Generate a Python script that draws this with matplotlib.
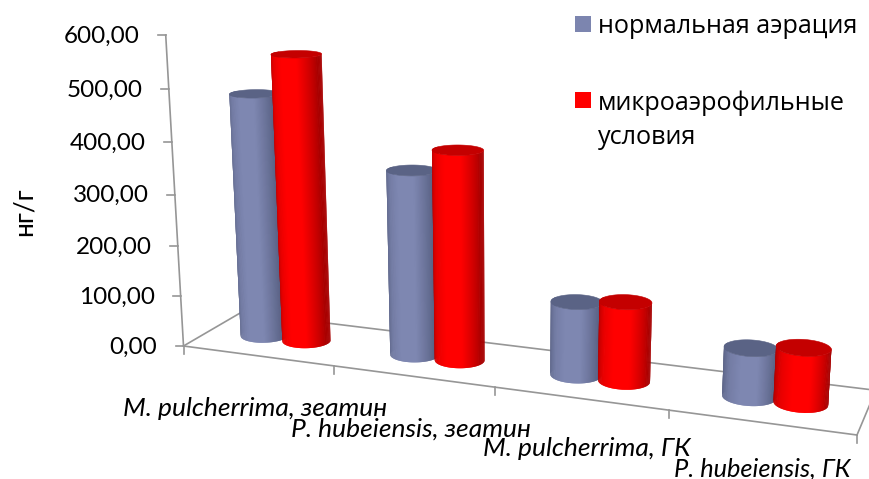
import numpy as np
import matplotlib
matplotlib.use('Agg')
import matplotlib.pyplot as plt
from matplotlib.collections import PolyCollection
from matplotlib.patches import Polygon, Rectangle

categories = ['M. pulcherrima, зеатин', 'P. hubeiensis, зеатин', 'M. pulcherrima, ГК', 'P. hubeiensis, ГК']
normal_aeration = [480, 358, 140, 91]
microaerophilic = [560, 403, 150, 103]
y_ticks = [0, 100, 200, 300, 400, 500, 600]
series_names = ['нормальная аэрация', 'микроаэрофильные\nусловия']

GRAY = '#969696'
BLUE = ('#555D7F', '#7E87B1', '#5A6385')  # edge, centre, top
RED = ('#A80000', '#FF0000', '#C40000')


def rgb(c):
    return np.array(matplotlib.colors.to_rgb(c))


# perspective of the floor: 4 corners of the plot box in pixels
src = [(0, 0), (4, 0), (0, 1), (4, 1)]
dst = [(183.5, 346), (857, 435), (241, 312.5), (875.8, 390.3)]
A, b = [], []
for (u, v), (x, y) in zip(src, dst):
    A.append([u, v, 1, 0, 0, 0, -u * x, -v * x])
    A.append([0, 0, 0, u, v, 1, -u * y, -v * y])
    b += [x, y]
h = np.linalg.solve(np.array(A), np.array(b))

# vertical lines meet far below the chart
VP = np.array([508.0, 6022.0, 1.0])
S = -0.05195 / 600


def project(cat, depth, val):
    w = h[6] * cat + h[7] * depth + 1 + S * val
    x = h[0] * cat + h[1] * depth + h[2] + S * val * VP[0]
    y = h[3] * cat + h[4] * depth + h[5] + S * val * VP[1]
    return x / w, y / w


def cylinder(ax, cat, val, colors, z):
    rx, rz = 0.147, 0.2
    edge, mid, top = colors
    th = np.linspace(np.pi - 0.35, 2 * np.pi + 0.35, 90)
    xb, yb = project(cat + rx * np.cos(th), 0.5 + rz * np.sin(th), 0)
    xt, yt = project(cat + rx * np.cos(th), 0.5 + rz * np.sin(th), val)
    polys, cols = [], []
    # strips overlap a little so no seams show
    for i in range(len(th) - 2):
        polys.append([(xb[i], yb[i]), (xb[i + 2], yb[i + 2]), (xt[i + 2], yt[i + 2]), (xt[i], yt[i])])
        u = (th[i + 1] - np.pi) / np.pi
        k = np.interp(u, [-0.1, 0.05, 0.3, 0.45, 0.65, 0.95, 1.1], [0, 0, 0.75, 1, 1, 0, 0])
        cols.append(rgb(edge) + k * (rgb(mid) - rgb(edge)))
    ax.add_collection(PolyCollection(polys, facecolors=cols, edgecolors='none', zorder=z))
    t2 = np.linspace(0, 2 * np.pi, 80)
    xe, ye = project(cat + rx * np.cos(t2), 0.5 + rz * np.sin(t2), val)
    ax.add_patch(Polygon(np.column_stack([xe, ye]), closed=True, fc=top, ec=top, lw=0.4, zorder=z + 0.1))


fig = plt.figure(figsize=(8.69, 4.79), dpi=100)
ax = fig.add_axes([0, 0, 1, 1])
ax.set_xlim(0, 869)
ax.set_ylim(479, 0)
ax.axis('off')

# floor lines and axis
for c0, d0, c1, d1 in [(0, 0, 4, 0), (0, 0, 0, 1), (0, 1, 4, 1), (4, 0, 4, 1)]:
    p0 = project(c0, d0, 0)
    p1 = project(c1, d1, 0)
    ax.plot([p0[0], p1[0]], [p0[1], p1[1]], color=GRAY, lw=1.2, zorder=1)
top_pt = project(0, 0, y_ticks[-1])
ax.plot([183.5, top_pt[0]], [346, top_pt[1]], color=GRAY, lw=1.2, zorder=1)

lab_font = ['Lato', 'Open Sans', 'DejaVu Sans']
for t in y_ticks:
    x, y = project(0, 0, t)
    ax.plot([x - 8, x], [y, y], color=GRAY, lw=1.2, zorder=1)
    ax.text(x - 26, y + 1, f'{t:.2f}'.replace('.', ','), ha='right', va='center', fontsize=17.5, family=lab_font)
for i in range(5):
    x, y = project(i, 0, 0)
    ax.plot([x, x], [y, y + 8], color=GRAY, lw=1.2, zorder=1)

ax.text(24, 212, 'нг/г', rotation=90, ha='center', va='center', fontsize=19, family=lab_font)

# cylinders, left to right
z = 2
for i in range(len(categories)):
    cylinder(ax, i + 0.36, normal_aeration[i], BLUE, z)
    cylinder(ax, i + 0.645, microaerophilic[i], RED, z + 1)
    z += 2

label_x = [255, 410.5, 586.5, 762]
label_y = [409, 429, 448, 469]
label_size = [19, 19, 19, 18.3]
for i, name in enumerate(categories):
    ax.text(label_x[i], label_y[i], name, ha='center', va='center', style='italic', fontsize=label_size[i], family=lab_font, zorder=20)

# legend
ax.add_patch(Rectangle((575, 16), 16, 16, fc='#7C85AF', ec='none'))
ax.add_patch(Rectangle((575, 92), 16, 16, fc='#FF0000', ec='none'))
ax.text(598, 26, series_names[0], ha='left', va='center', fontsize=18.1, family='Open Sans')
ax.text(598, 120, series_names[1], ha='left', va='center', fontsize=18.1, family='Open Sans', linespacing=1.45)

fig.savefig('out.png', dpi=100)
